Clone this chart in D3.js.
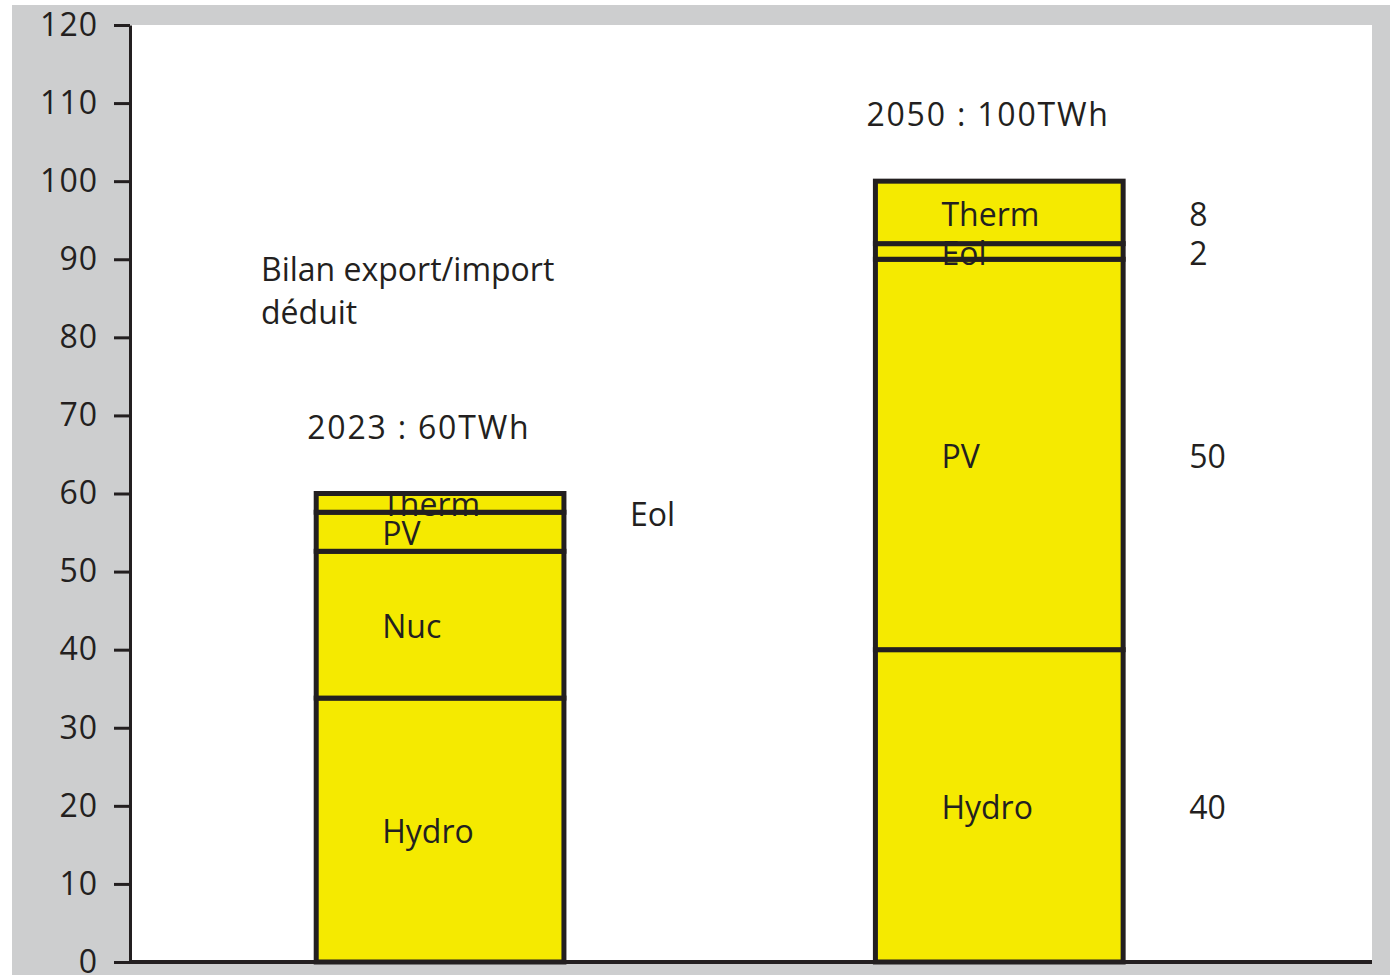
<!DOCTYPE html>
<html>
<head>
<meta charset="utf-8">
<script src="https://cdn.jsdelivr.net/npm/d3@7"></script>
<style>
  html, body { margin: 0; padding: 0; background: #fff; }
  svg { display: block; }
  text { font-family: 'Open Sans', 'DejaVu Sans', sans-serif; fill: #231f20; }
</style>
</head>
<body>
<svg id="chart"></svg>
<script>
// data
const years = ['2023', '2050'];
const sources = ['Hydro', 'Nuc', 'PV', 'Eol', 'Therm'];
const values2023 = [33.8, 18.8, 5, 0, 2.4];
const values2050 = [40, 0, 50, 2, 8];
const totalLabels = ['2023 : 60TWh', '2050 : 100TWh'];
const yTicks = [0, 10, 20, 30, 40, 50, 60, 70, 80, 90, 100, 110, 120];
// text shown to the right of each bar, by source
const side2023 = { Eol: 'Eol' };
const side2050 = { Hydro: '40', PV: '50', Eol: '2', Therm: '8' };
const noteLines = ['Bilan export/import', 'déduit'];

const width = 1390, height = 975;
const margin = { top: 25, right: 18, bottom: 13, left: 130 };
const ink = '#231f20';
const yellow = '#f5ea00';

const svg = d3.select('#chart').attr('width', width).attr('height', height);

// grey frame + white plot area
svg.append('rect').attr('x', 12).attr('y', 5).attr('width', width - 12).attr('height', height - 5).attr('fill', '#cdcecf');
svg.append('rect')
  .attr('x', margin.left).attr('y', margin.top)
  .attr('width', width - margin.right - margin.left)
  .attr('height', height - margin.bottom - margin.top)
  .attr('fill', '#fff');

const x = d3.scaleBand()
  .domain(years)
  .range([margin.left, width - margin.right])
  .paddingInner(0.557)
  .paddingOuter(0.389)
  .align(0.428);

const y = d3.scaleLinear()
  .domain([0, 120])
  .range([height - margin.bottom, margin.top]);

const table = years.map((yr, i) => {
  const vals = i === 0 ? values2023 : values2050;
  const side = i === 0 ? side2023 : side2050;
  let acc = 0;
  return sources.map((s, j) => {
    const d = { year: yr, source: s, v0: acc, v1: acc + vals[j], side: side[s] };
    acc += vals[j];
    return d;
  });
});

// segments
const bars = svg.append('g');
table.forEach(segs => {
  bars.selectAll(null)
    .data(segs.filter(d => d.v1 > d.v0))
    .enter()
    .append('rect')
    .attr('x', d => x(d.year))
    .attr('y', d => y(d.v1))
    .attr('width', x.bandwidth())
    .attr('height', d => y(d.v0) - y(d.v1))
    .attr('fill', yellow)
    .attr('stroke', ink)
    .attr('stroke-width', 5);
});

// labels inside / beside bars
const labels = svg.append('g').style('font-size', '32px');
table.forEach(segs => {
  labels.selectAll(null)
    .data(segs.filter(d => d.v1 > d.v0))
    .enter()
    .append('text')
    .attr('x', d => x(d.year) + 66)
    .attr('y', d => y((d.v0 + d.v1) / 2))
    .attr('dy', '0.42em')
    .text(d => d.source);

  labels.selectAll(null)
    .data(segs.filter(d => d.side))
    .enter()
    .append('text')
    .attr('x', d => x(d.year) + x.bandwidth() + 66)
    .attr('y', d => y((d.v0 + d.v1) / 2))
    .attr('dy', '0.42em')
    .text(d => d.side);
});

// totals above bars
labels.selectAll(null)
  .data(years)
  .enter()
  .append('text')
  .attr('x', d => x(d) - 9)
  .attr('y', (d, i) => y(d3.sum(i === 0 ? values2023 : values2050)) - 55)
  .style('letter-spacing', '1.8px')
  .text((d, i) => totalLabels[i]);

labels.selectAll(null)
  .data(noteLines)
  .enter()
  .append('text')
  .attr('x', 261)
  .attr('y', (d, i) => 281 + i * 43)
  .text(d => d);

// axes
const yAxis = svg.append('g')
  .attr('transform', `translate(${margin.left},0)`)
  .call(d3.axisLeft(y).tickValues(yTicks).tickSize(16).tickSizeOuter(0).tickPadding(16));
yAxis.select('.domain').attr('stroke', ink).attr('stroke-width', 3);
yAxis.selectAll('.tick line').attr('stroke', ink).attr('stroke-width', 3);
yAxis.selectAll('.tick text')
  .style('font-family', "'Open Sans', 'DejaVu Sans', sans-serif")
  .style('font-size', '32px')
  .style('letter-spacing', '1px')
  .attr('fill', ink);

svg.append('line')
  .attr('x1', margin.left).attr('x2', width - margin.right)
  .attr('y1', y(0)).attr('y2', y(0))
  .attr('stroke', ink).attr('stroke-width', 4);
</script>
</body>
</html>
